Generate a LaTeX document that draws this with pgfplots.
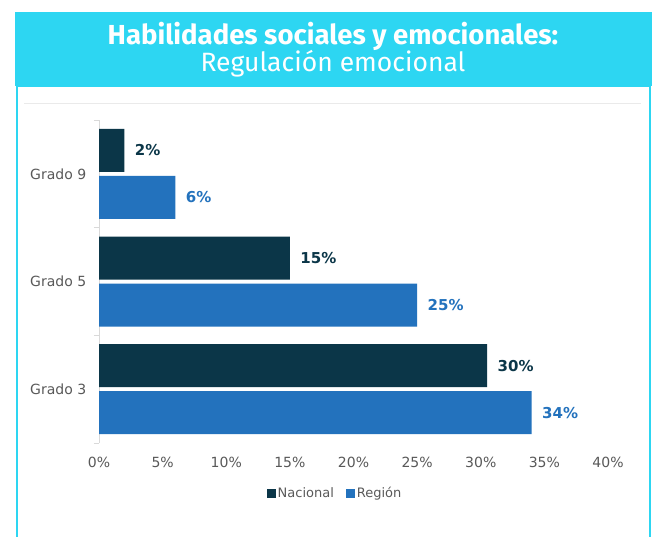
\documentclass[border=0pt]{standalone}
\usepackage{pgfplots}
\pgfplotsset{compat=1.18}
\usepackage{fontspec}
\setmainfont{DejaVu Sans}
\newfontfamily\titlefont{Fira Sans}
\definecolor{cyanband}{HTML}{2DD6F2}
\definecolor{nac}{HTML}{0B3648}
\definecolor{reg}{HTML}{2372BD}
\definecolor{txtgray}{HTML}{595959}
\definecolor{axgray}{HTML}{D9D9D9}
\definecolor{lineg}{HTML}{EAEAEA}
\begin{document}
\begin{tikzpicture}[x=1pt,y=1pt]
\path[use as bounding box] (0,0) rectangle (652,-537);
\fill[white] (0,0) rectangle (652,-537);
\fill[cyanband] (15,-12) rectangle (652,-86);
\draw[cyanband, line width=2pt] (17,-545) -- (17,-86) -- (650,-86) -- (650,-545);
\draw[lineg, line width=0.8pt] (24,-103) -- (641,-103);
\node[text=white, font=\titlefont\bfseries\fontsize{27.5}{30}\selectfont] at (333,-36.5) {Habilidades sociales y emocionales:};
\node[text=white, font=\titlefont\fontsize{26.5}{30}\selectfont] at (333,-64) {Regulación emocional};
\begin{axis}[
  at={(99pt,-443pt)}, anchor=south west,
  scale only axis, width=509pt, height=323pt,
  xbar, bar width=43pt,
  xmin=0, xmax=40, ymin=-0.5, ymax=2.5,
  axis x line*=bottom, axis y line*=left,
  x axis line style={draw=none},
  y axis line style={axgray, line width=0.8pt},
  /pgf/number format/assume math mode=true,
  xtick={0,5,...,40},
  xticklabel={\pgfmathprintnumber{\tick}\%},
  xtick style={draw=none},
  xticklabel style={text=txtgray, font=\fontsize{14}{14}\selectfont, yshift=-6pt},
  ytick={0,1,2},
  yticklabels={Grado 3,Grado 5,Grado 9},
  major y tick style={draw=none},
  minor ytick={-0.5,0.5,1.5,2.5},
  minor y tick style={axgray, line width=0.8pt},
  minor tick length=5pt,
  tick align=outside,
  yticklabel style={text=txtgray, font=\fontsize{14}{14}\selectfont, xshift=-5pt},
  legend style={at={(0.4637,-0.1548)}, anchor=center, draw=none, fill=none,
    font=\fontsize{13}{13}\selectfont, text=txtgray, legend columns=2,
    /tikz/every even column/.append style={column sep=10pt}},
  legend image code/.code={\fill[#1] (0pt,-4.5pt) rectangle (9pt,4.5pt);},
  nodes near coords={\pgfplotspointmeta\%},
  point meta=explicit symbolic,
]
\addplot[fill=nac, draw=none, bar shift=23.5pt,
  nodes near coords style={text=nac, font=\bfseries\fontsize{15}{15}\selectfont, anchor=west, xshift=7pt}]
  table[x=v, y=c, meta=l] {
c v l
0 30.5 30
1 15 15
2 2 2
};
\addlegendentry{Nacional}
\addplot[fill=reg, draw=none, bar shift=-23.5pt,
  nodes near coords style={text=reg, font=\bfseries\fontsize{15}{15}\selectfont, anchor=west, xshift=7pt}]
  table[x=v, y=c, meta=l] {
c v l
0 34 34
1 25 25
2 6 6
};
\addlegendentry{Región}
\end{axis}
\end{tikzpicture}
\end{document}
